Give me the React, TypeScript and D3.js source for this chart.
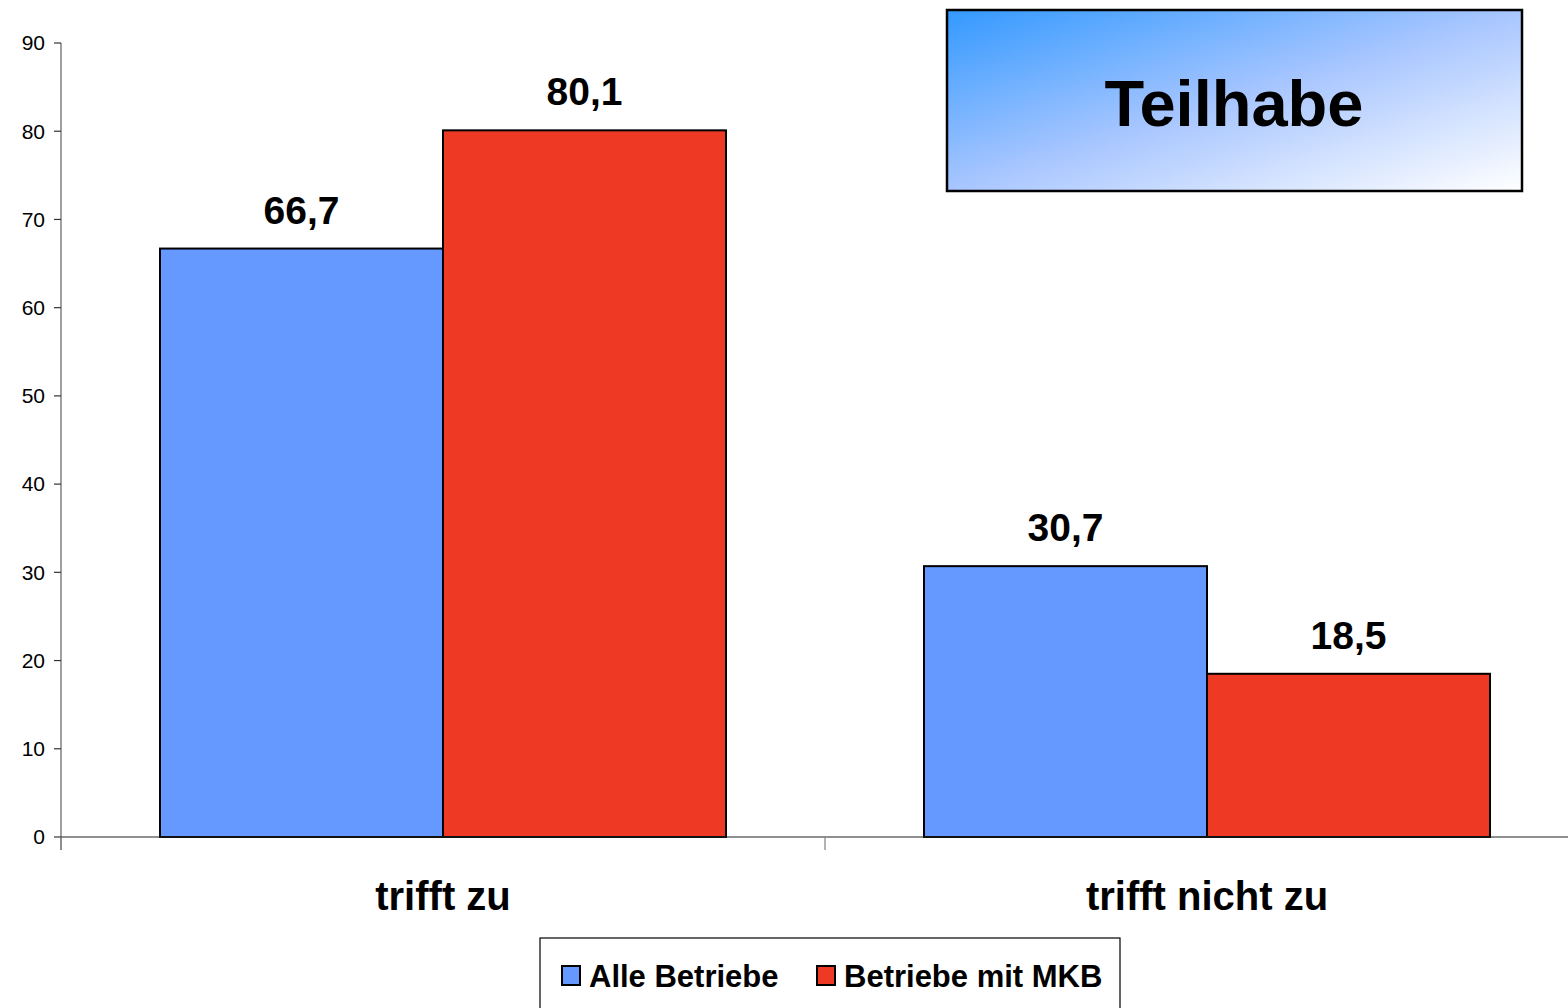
import React from "react";
import * as d3 from "d3";

const categories = ["trifft zu", "trifft nicht zu"];
const seriesNames = ["Alle Betriebe", "Betriebe mit MKB"];
const alleBetriebe = [66.7, 30.7];
const betriebeMitMKB = [80.1, 18.5];
const yTicks = [0, 10, 20, 30, 40, 50, 60, 70, 80, 90];
const colors = ["#6699FF", "#EE3A24"];
const title = "Teilhabe";

const FONT = "'Liberation Sans', Arial, sans-serif";

export default function App() {
  const W = 1568, H = 1008;
  const x0 = 61, x1 = 1589, yTop = 43, yBot = 837;
  const y = d3.scaleLinear().domain([0, 90]).range([yBot, yTop]);
  const xCat = d3.scaleBand().domain(categories).range([x0, x1]).paddingInner(0).paddingOuter(0);
  const inner = d3.scaleBand().domain(seriesNames).range([99, xCat.bandwidth() - 99]);
  const series = [alleBetriebe, betriebeMitMKB];
  const fmt = (v: number) => v.toFixed(1).replace(".", ",");

  return (
    <svg width={W} height={H} style={{ position: "absolute", left: 0, top: 0 }} fontFamily={FONT}>
      <defs>
        <linearGradient id="tg" x1="0" y1="0" x2="1" y2="1">
          <stop offset="0" stopColor="#3399FF" />
          <stop offset="0.5" stopColor="#A8C6FF" />
          <stop offset="1" stopColor="#FFFFFF" />
        </linearGradient>
      </defs>
      <rect x={0} y={0} width={W} height={H} fill="white" />
      {/* y axis */}
      <line x1={x0} x2={x0} y1={yTop} y2={850} stroke="#808080" strokeWidth={1.5} />
      {yTicks.map((t) => (
        <g key={t}>
          <line x1={54} x2={x0} y1={y(t)} y2={y(t)} stroke="#333" strokeWidth={1.2} />
          <text x={45} y={y(t)} dy="0.35em" textAnchor="end" fontSize={21} fill="#000">
            {t}
          </text>
        </g>
      ))}
      {/* bars */}
      {categories.map((c, ci) =>
        series.map((s, si) => {
          const bx = (xCat(c) as number) + (inner(seriesNames[si]) as number);
          const bw = inner.bandwidth();
          return (
            <g key={c + si}>
              <rect x={bx} y={y(s[ci])} width={bw} height={yBot - y(s[ci])} fill={colors[si]} stroke="#000" strokeWidth={2} />
              <text x={bx + bw / 2} y={y(s[ci]) - 25} textAnchor="middle" fontSize={39} fontWeight="bold" fill="#000">
                {fmt(s[ci])}
              </text>
            </g>
          );
        })
      )}
      {/* x axis */}
      <line x1={x0} x2={W} y1={yBot} y2={yBot} stroke="#222" strokeWidth={1.2} />
      {categories.map((c) => (
        <line key={c} x1={xCat(c) as number} x2={xCat(c) as number} y1={yBot} y2={850} stroke="#808080" strokeWidth={1.2} />
      ))}
      {categories.map((c) => (
        <text key={c} x={(xCat(c) as number) + xCat.bandwidth() / 2} y={910} textAnchor="middle" fontSize={40} fontWeight="bold" fill="#000">
          {c}
        </text>
      ))}
      {/* title box */}
      <rect x={947} y={10} width={575} height={181} fill="url(#tg)" stroke="#000" strokeWidth={2.5} />
      <text x={1234} y={126} textAnchor="middle" fontSize={65} fontWeight="bold" fill="#000">
        {title}
      </text>
      {/* legend */}
      <rect x={540} y={938} width={580} height={80} fill="white" stroke="#000" strokeWidth={1.2} />
      {seriesNames.map((n, i) => {
        const lx = i === 0 ? 562 : 817;
        return (
          <g key={n}>
            <rect x={lx} y={966} width={18} height={19} fill={colors[i]} stroke="#000" strokeWidth={2} />
            <text x={lx + 27} y={987} fontSize={31} fontWeight="bold" fill="#000">
              {n}
            </text>
          </g>
        );
      })}
    </svg>
  );
}
